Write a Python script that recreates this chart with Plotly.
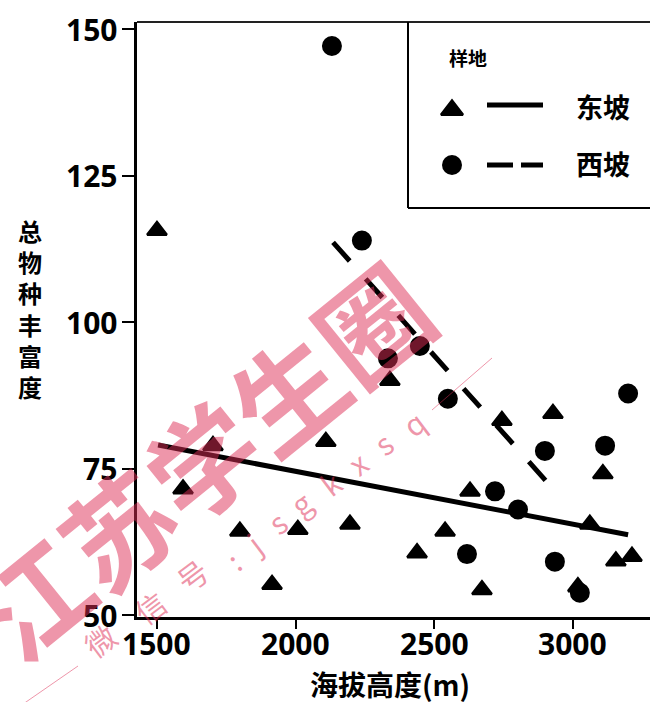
import plotly.graph_objects as go

# East slope (triangles): altitude (m) and total species richness
east_alt = [1500, 1594, 1702, 1799, 1915, 2008, 2109, 2196, 2340, 2438,
            2539, 2629, 2672, 2744, 2928, 3018, 3061, 3108, 3155, 3213]
east_rich = [115.6, 71.5, 78.9, 64.3, 55.2, 64.6, 79.6, 65.5, 90.0, 60.6,
             64.3, 71.1, 54.3, 83.2, 84.4, 54.8, 65.5, 74.1, 59.2, 60.0]

# West slope (circles)
west_alt = [2131, 2239, 2333, 2448, 2549, 2618, 2719, 2802, 2899, 2935,
            3025, 3116, 3199]
west_rich = [147.1, 113.9, 93.8, 95.9, 86.9, 60.4, 71.1, 68.0, 78.0, 59.1,
             53.8, 78.9, 87.8]

# Fitted trend lines (end points)
east_fit_alt = [1504, 3199]
east_fit_rich = [79.0, 63.7]
west_fit_alt = [2135, 2946]
west_fit_rich = [113.6, 70.6]

x_ticks = [1500, 2000, 2500, 3000]
y_ticks = [50, 75, 100, 125, 150]

legend_title = "样地"
legend_names = ["东坡", "西坡"]
x_title = "海拔高度(m)"
y_title = "总物种丰富度"

W, H = 650, 702
L, R, T, B = 137, 650, 22, 617  # plot area in pixels


def px(x):
    return (x - L) / (R - L)


def py(y):
    return (B - y) / (B - T)


TICK_FONT = dict(family="Open Sans", size=30, color="black", weight="bold")
CJK = "Noto Sans CJK SC"


def label(text, x, y, size, color="black", weight="bold", angle=0):
    return dict(text=text, x=px(x), y=py(y), xref="paper", yref="paper",
                xanchor="center", yanchor="middle", showarrow=False,
                textangle=angle,
                font=dict(family=CJK, size=size, color=color, weight=weight))


fig = go.Figure()

fig.add_trace(go.Scatter(
    x=east_fit_alt, y=east_fit_rich, mode="lines",
    line=dict(color="black", width=5), showlegend=False, hoverinfo="skip"))
fig.add_trace(go.Scatter(
    x=west_fit_alt, y=west_fit_rich, mode="lines",
    line=dict(color="black", width=5, dash="25px,24px"),
    showlegend=False, hoverinfo="skip"))
fig.add_trace(go.Scatter(
    x=east_alt, y=east_rich, mode="markers", name=legend_names[0],
    marker=dict(symbol="triangle-up", size=17, color="black",
                line=dict(color="black", width=2.5)),
    showlegend=False, cliponaxis=False))
fig.add_trace(go.Scatter(
    x=west_alt, y=west_rich, mode="markers", name=legend_names[1],
    marker=dict(symbol="circle", size=18, color="black",
                line=dict(color="black", width=2)),
    showlegend=False, cliponaxis=False))

# Legend keys drawn on a pixel-based overlay axis
fig.add_trace(go.Scatter(
    x=[452], y=[110], xaxis="x2", yaxis="y2", mode="markers",
    marker=dict(symbol="triangle-up", size=19, color="black",
                line=dict(color="black", width=2.5)),
    showlegend=False, hoverinfo="skip", cliponaxis=False))
fig.add_trace(go.Scatter(
    x=[452], y=[165], xaxis="x2", yaxis="y2", mode="markers",
    marker=dict(symbol="circle", size=20, color="black"),
    showlegend=False, hoverinfo="skip", cliponaxis=False))

shapes = [
    # top frame
    dict(type="line", xref="paper", yref="paper", x0=0, x1=1, y0=1, y1=1,
         line=dict(color="#222", width=2)),
    # legend box
    dict(type="line", xref="paper", yref="paper", x0=px(408), x1=px(408),
         y0=py(T), y1=py(208), line=dict(color="black", width=2)),
    dict(type="line", xref="paper", yref="paper", x0=px(408), x1=px(652),
         y0=py(208), y1=py(208), line=dict(color="black", width=2)),
    # legend line samples
    dict(type="line", xref="paper", yref="paper", x0=px(487), x1=px(543),
         y0=py(105), y1=py(105), line=dict(color="black", width=5)),
    dict(type="line", xref="paper", yref="paper", x0=px(487), x1=px(513),
         y0=py(165), y1=py(165), line=dict(color="black", width=5)),
    dict(type="line", xref="paper", yref="paper", x0=px(521), x1=px(543),
         y0=py(165), y1=py(165), line=dict(color="black", width=5)),
]

WM = "rgba(221,45,85,0.5)"
# thin watermark rules
shapes += [
    dict(type="line", xref="paper", yref="paper", x0=px(0), x1=px(78),
         y0=py(720), y1=py(666), line=dict(color=WM, width=1)),
    dict(type="line", xref="paper", yref="paper", x0=px(432), x1=px(492),
         y0=py(410), y1=py(358), line=dict(color=WM, width=1)),
]

annotations = []
# tick labels placed at the axis values, set close to the axes
for v in x_ticks:
    annotations.append(dict(text=str(v), x=v, xref="x", y=py(643), yref="paper",
                            xanchor="center", yanchor="middle", showarrow=False,
                            font=TICK_FONT))
for v in y_ticks:
    annotations.append(dict(text=str(v), x=px(119), xref="paper", y=v, yref="y",
                            xanchor="right", yanchor="middle", showarrow=False,
                            font=TICK_FONT))

annotations += [
    label(x_title, 390, 684, 28),
    label("<br>".join(y_title), 30, 309, 24),
    label(legend_title, 468, 57, 19),
    label(legend_names[0], 603, 106, 27),
    label(legend_names[1], 603, 163, 27),
    # watermark
    label("江苏学生圈", 200, 458, 109, color=WM, angle=-39),
]

small_wm = [("微", 100, 640), ("信", 150, 607), ("号", 192, 575), (":", 233, 560),
            ("j", 253, 543), ("s", 277, 522), ("g", 300, 503), ("k", 330, 483),
            ("x", 357, 463), ("s", 383, 443), ("q", 413, 423)]
for ch, cx, cy in small_wm:
    annotations.append(label(ch, cx, cy, 30, color=WM, weight="normal", angle=-37))

fig.update_layout(
    width=W, height=H,
    margin=dict(l=L, r=W - R, t=T, b=H - B, pad=0),
    paper_bgcolor="white", plot_bgcolor="white",
    showlegend=False,
    xaxis=dict(range=[1428, 3278], tickvals=x_ticks, ticks="outside",
               ticklen=9, tickwidth=2, tickcolor="black", showticklabels=False,
               showline=True, linecolor="black", linewidth=2.5,
               showgrid=False, zeroline=False),
    yaxis=dict(range=[49.66, 151.2], tickvals=y_ticks, ticks="outside",
               ticklen=12, tickwidth=2, tickcolor="black", showticklabels=False,
               showline=True, linecolor="black", linewidth=2.5,
               showgrid=False, zeroline=False),
    xaxis2=dict(range=[L, R], overlaying="x", visible=False, fixedrange=True),
    yaxis2=dict(range=[B, T], overlaying="y", visible=False, fixedrange=True),
    shapes=shapes,
    annotations=annotations,
)

fig.write_html("out.html")
